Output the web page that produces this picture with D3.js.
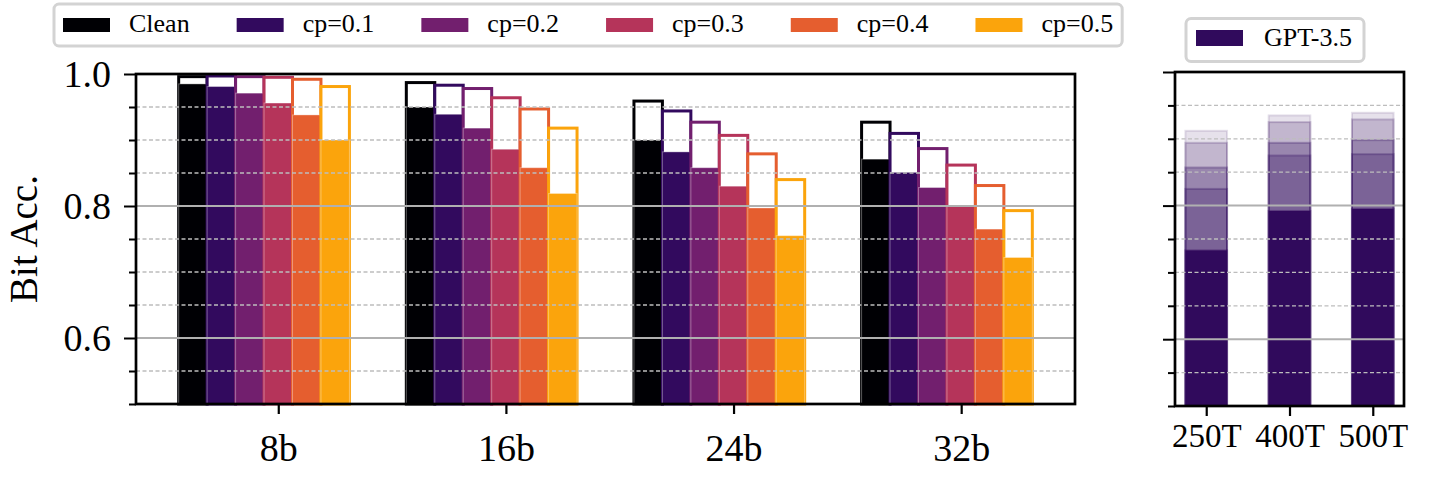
<!DOCTYPE html>
<html>
<meta charset="utf-8">
<style>
    body { margin: 0; background: #fff; }
    svg text { font-family: "Liberation Serif", serif; fill: #000; }
</style>
<body>
<script src="https://cdn.jsdelivr.net/npm/d3@7"></script>
<script>
    // ---- data ----
    var groups = ["8b", "16b", "24b", "32b"];
    var series = ["Clean", "cp=0.1", "cp=0.2", "cp=0.3", "cp=0.4", "cp=0.5"];
    var seriesColors = ["#000004", "#320a5e", "#721f6e", "#b5345a", "#e55e2f", "#fba40c"];

    // hollow (upper) value of each bar, one row per series, one column per group
    var upperAcc = [
        [0.996, 0.987, 0.959, 0.927],
        [0.997, 0.983, 0.944, 0.910],
        [0.996, 0.978, 0.927, 0.887],
        [0.995, 0.964, 0.907, 0.862],
        [0.992, 0.947, 0.879, 0.831],
        [0.981, 0.918, 0.840, 0.793]
    ];
    // filled (lower) value of each bar
    var lowerAcc = [
        [0.985, 0.950, 0.900, 0.871],
        [0.981, 0.939, 0.882, 0.851],
        [0.971, 0.918, 0.858, 0.828],
        [0.956, 0.886, 0.830, 0.800],
        [0.938, 0.858, 0.797, 0.765],
        [0.900, 0.819, 0.755, 0.722]
    ];

    var tokenGroups = ["250T", "400T", "500T"];
    var gptLabel = "GPT-3.5";
    var gptColor = "#300a5c";
    // overlapping translucent bars, tallest first
    var gptLayers = [
        [0.912, 0.935, 0.939],
        [0.894, 0.925, 0.929],
        [0.857, 0.894, 0.898],
        [0.825, 0.875, 0.877],
        [0.733, 0.792, 0.795]
    ];
    var layerOpacity = [0.12, 0.2, 0.28, 0.28, 1];

    var yMajor = [0.6, 0.8, 1.0];
    var yMinor = [0.5, 0.55, 0.65, 0.7, 0.75, 0.85, 0.9, 0.95];

    // ---- layout ----
    var svg = d3.select("body").append("svg")
        .attr("width", 1433)
        .attr("height", 478);

    var barW = 0.125;

    var x1 = d3.scaleLinear().domain([-0.625, 3.5]).range([136, 1075]);
    var y1 = d3.scaleLinear().domain([0.5, 1.0]).range([404, 74]);

    var x2 = d3.scaleLinear().domain([-0.375, 2.375]).range([1175, 1404]);
    var y2 = d3.scaleLinear().domain([0.5, 1.0]).range([406, 72]);

    function drawGrid(g, x, y) {
        var xr = x.range();
        g.selectAll("line.minor").data(yMinor.filter(function (v) { return v > 0.5; }))
            .enter().append("line")
            .attr("x1", xr[0]).attr("x2", xr[1])
            .attr("y1", function (d) { return y(d); })
            .attr("y2", function (d) { return y(d); })
            .attr("stroke", "#bdbdbd")
            .attr("stroke-width", 1.3)
            .attr("stroke-dasharray", "4,2.5");
        g.selectAll("line.major").data(yMajor.filter(function (v) { return v < 1; }))
            .enter().append("line")
            .attr("x1", xr[0]).attr("x2", xr[1])
            .attr("y1", function (d) { return y(d); })
            .attr("y2", function (d) { return y(d); })
            .attr("stroke", "#b0b0b0")
            .attr("stroke-width", 2);
    }

    function drawFrame(g, x, y, showLabels) {
        var xr = x.range(), yr = y.range();
        var major = d3.axisLeft(y).tickValues(yMajor).tickSize(12).tickPadding(13)
            .tickFormat(showLabels ? d3.format(".1f") : function () { return ""; });
        var minor = d3.axisLeft(y).tickValues(yMinor).tickSize(7).tickFormat("");
        var ga = g.append("g").attr("transform", "translate(" + xr[0] + ",0)").call(major);
        var gm = g.append("g").attr("transform", "translate(" + xr[0] + ",0)").call(minor);
        [ga, gm].forEach(function (a) {
            a.select(".domain").remove();
            a.selectAll(".tick line").attr("stroke", "#000").attr("stroke-width", 2);
        });
        ga.selectAll(".tick text").style("font-size", "38px");
        g.append("rect")
            .attr("x", xr[0]).attr("y", yr[1])
            .attr("width", xr[1] - xr[0]).attr("height", yr[0] - yr[1])
            .attr("fill", "none")
            .attr("stroke", "#000")
            .attr("stroke-width", 2.7);
    }

    // ---- left panel ----
    var left = svg.append("g");

    series.forEach(function (s, j) {
        groups.forEach(function (grp, i) {
            var bx = x1(i + (j - 3.5) * barW);
            var bw = x1(barW) - x1(0);
            // hollow bar up to the upper value
            left.append("rect")
                .attr("x", bx).attr("width", bw)
                .attr("y", y1(upperAcc[j][i]))
                .attr("height", y1(0.5) - y1(upperAcc[j][i]))
                .attr("fill", "#fff")
                .attr("stroke", seriesColors[j])
                .attr("stroke-width", 3);
            // filled bar up to the lower value
            left.append("rect")
                .attr("x", bx).attr("width", bw)
                .attr("y", y1(lowerAcc[j][i]))
                .attr("height", y1(0.5) - y1(lowerAcc[j][i]))
                .attr("fill", seriesColors[j])
                .attr("stroke", "#fff")
                .attr("stroke-opacity", 0.35)
                .attr("stroke-width", 1);
        });
    });

    drawGrid(left, x1, y1);
    drawFrame(left, x1, y1, true);

    var xa1 = d3.axisBottom(x1).tickValues(d3.range(groups.length))
        .tickFormat(function (d) { return groups[d]; })
        .tickSize(10).tickPadding(20);
    var gx1 = left.append("g").attr("transform", "translate(0," + y1(0.5) + ")").call(xa1);
    gx1.select(".domain").remove();
    gx1.selectAll(".tick line").attr("stroke", "#000").attr("stroke-width", 2.2);
    gx1.selectAll(".tick text").style("font-size", "38px");

    left.append("text")
        .attr("transform", "translate(37," + (y1(0.75)) + ") rotate(-90)")
        .attr("text-anchor", "middle")
        .style("font-size", "39px")
        .text("Bit Acc.");

    // ---- right panel ----
    var right = svg.append("g");
    gptLayers.forEach(function (vals, k) {
        tokenGroups.forEach(function (t, i) {
            right.append("rect")
                .attr("x", x2(i - 0.25))
                .attr("width", x2(0.5) - x2(0))
                .attr("y", y2(vals[i]))
                .attr("height", y2(0.5) - y2(vals[i]))
                .attr("fill", gptColor)
                .attr("fill-opacity", layerOpacity[k])
                .attr("stroke", gptColor)
                .attr("stroke-opacity", Math.min(layerOpacity[k], 0.35))
                .attr("stroke-width", 2);
        });
    });
    drawGrid(right, x2, y2);
    drawFrame(right, x2, y2, false);

    var xa2 = d3.axisBottom(x2).tickValues(d3.range(tokenGroups.length))
        .tickFormat(function (d) { return tokenGroups[d]; })
        .tickSize(10).tickPadding(8);
    var gx2 = right.append("g").attr("transform", "translate(0," + y2(0.5) + ")").call(xa2);
    gx2.select(".domain").remove();
    gx2.selectAll(".tick line").attr("stroke", "#000").attr("stroke-width", 2.2);
    gx2.selectAll(".tick text").style("font-size", "33px");

    // ---- legends ----
    var leg = svg.append("g");
    var legBox = leg.append("rect")
        .attr("x", 54).attr("y", 4).attr("height", 42).attr("rx", 5)
        .attr("fill", "#fff").attr("stroke", "#d3d3d3").attr("stroke-width", 3);
    var lx = 63;
    series.forEach(function (s, j) {
        leg.append("rect")
            .attr("x", lx).attr("y", 18).attr("width", 47).attr("height", 14)
            .attr("fill", seriesColors[j]);
        var t = leg.append("text")
            .attr("x", lx + 66).attr("y", 32)
            .style("font-size", "26px")
            .text(s);
        var tw = t.node().getComputedTextLength();
        if (j < series.length - 1) lx = lx + 66 + tw + 47;
        else lx = lx + 66 + tw;
    });
    legBox.attr("width", lx + 9 - 54);

    var leg2 = svg.append("g");
    leg2.append("rect")
        .attr("x", 1186).attr("y", 18.5).attr("width", 178).attr("height", 43).attr("rx", 5)
        .attr("fill", "#fff").attr("stroke", "#d3d3d3").attr("stroke-width", 3);
    leg2.append("rect")
        .attr("x", 1196).attr("y", 30).attr("width", 47).attr("height", 16)
        .attr("fill", gptColor);
    leg2.append("text")
        .attr("x", 1264).attr("y", 46)
        .style("font-size", "26px")
        .text(gptLabel);
</script>
</body>
</html>
